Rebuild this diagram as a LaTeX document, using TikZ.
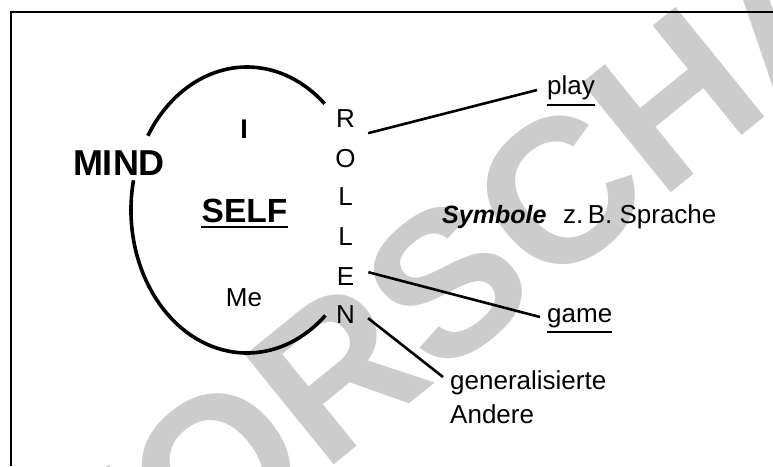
\documentclass[tikz,border=0pt]{standalone}
\usepackage{fontspec}
\setmainfont{Liberation Sans}
\tikzset{
  txt/.style={inner sep=0pt, anchor=base, font=\fontsize{26}{34}\selectfont},
  boldbig/.style={inner sep=0pt, anchor=base, font=\fontsize{36}{40}\selectfont\bfseries},
  letter/.style={inner sep=0pt, anchor=base, font=\fontsize{26}{34}\selectfont},
  conn/.style={line width=2.6pt},
  ul/.style={line width=2pt},
  arcline/.style={line width=3.6pt},
  frameline/.style={line width=1.7pt},
  wmark/.style={rotate=39, text=black!20, inner sep=0pt, font=\fontsize{205}{205}\selectfont\bfseries}
}
\begin{document}
\begin{tikzpicture}[x=1pt,y=-1pt]
\useasboundingbox (0,0) rectangle (773,466);
% watermark
\node[wmark] (wm) at (505,236) {VORSCHAU};
% frame
\draw[frameline] (11,466) -- (11,11.8) -- (773,11.8);
% ellipse arcs
\draw[arcline] (247,210) ++(-148.7:116 and 143) arc[start angle=-148.7, end angle=-48, x radius=116, y radius=143];
\draw[arcline] (247,210) ++(-168:116 and 143) arc[start angle=-168, end angle=-312.5, x radius=116, y radius=143];
% texts
\node[boldbig] (mind) at (119,175) {MIND};
\node[txt, font=\fontsize{27}{34}\selectfont\bfseries] (i) at (244,138) {I};
\node[boldbig, font=\fontsize{33.5}{40}\selectfont\bfseries] (self) at (244.5,222) {SELF};
\draw[ul] ([yshift=-5pt]self.base west) -- ([yshift=-5pt]self.base east);
\node[txt] (me) at (244,306) {Me};
% ROLLEN
\node[letter] (r1) at (345.5,127) {R};
\node[letter] (o1) at (345.5,167) {O};
\node[letter] (l1) at (345.5,205.5) {L};
\node[letter] (l2) at (345.5,245) {L};
\node[letter] (e1) at (345.5,285) {E};
\node[letter] (n1) at (345.5,323) {N};
% right labels
\node[txt, anchor=base west] (play) at (547,94) {play};
\draw[ul] ([yshift=-11pt]play.base west) -- ([yshift=-11pt]play.base east);
\node[txt, anchor=base west] (game) at (547,322) {game};
\draw[ul] ([yshift=-10pt]game.base west) -- ([yshift=-10pt]game.base east);
\node[txt, anchor=base west, font=\fontsize{25}{34}\selectfont\bfseries\itshape] (symb) at (442,223) {Symbole};
\node[txt, anchor=base west] (spr) at (563,223) {z.\,B. Sprache};
\node[txt, anchor=base west, align=left] (gen) at (450,423) {generalisierte\\Andere};
% connectors
\draw[conn] ([xshift=13pt,yshift=-6pt]r1.south east) -- ([xshift=-10pt,yshift=4pt]play.base west);
\draw[conn] ([xshift=14pt,yshift=13pt]e1.south east) -- ([xshift=-7pt,yshift=5pt]game.base west);
\draw[conn] ([xshift=13pt,yshift=5pt]n1.south east) -- ([xshift=-7pt,yshift=46pt]gen.base west);
\end{tikzpicture}
\end{document}
